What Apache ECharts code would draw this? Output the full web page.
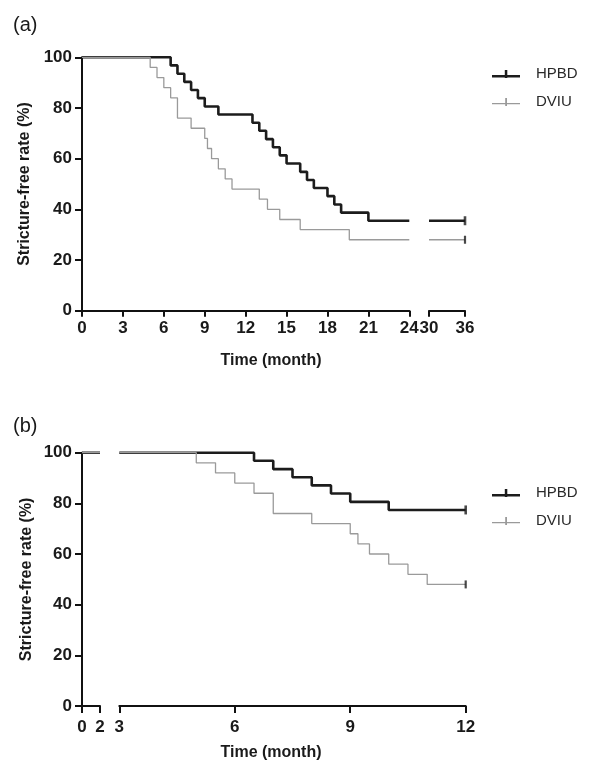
<!DOCTYPE html>
<html>
<head>
<meta charset="utf-8">
<script src="https://cdn.jsdelivr.net/npm/echarts@6/dist/echarts.min.js"></script>
<style>
html,body{margin:0;padding:0;background:#fff;}
#chart{width:596px;height:783px;}
</style>
</head>
<body>
<div id="chart"></div>
<script>
// ---------- DATA ----------
// Panel (a): Kaplan-Meier event times (months) and survival (%)
var hpbdA_t = [0, 6.5, 7, 7.5, 8, 8.5, 9, 10, 12.5, 13, 13.5, 14, 14.5, 15, 16, 16.5, 17, 18, 18.5, 19, 21];
var hpbdA_s = [100, 96.8, 93.5, 90.3, 87.1, 83.9, 80.6, 77.4, 74.2, 71.0, 67.7, 64.5, 61.3, 58.1, 54.8, 51.6, 48.4, 45.2, 41.9, 38.7, 35.5];
var dviuA_t = [0, 5, 5.5, 6, 6.5, 7, 8, 9, 9.2, 9.5, 10, 10.5, 11, 13, 13.6, 14.5, 16, 19.6];
var dviuA_s = [100, 96, 92, 88, 84, 76, 72, 68, 64, 60, 56, 52, 48, 44, 40, 36, 32, 28];
var endA = 36;
// Panel (b)
var hpbdB_t = [0, 6.5, 7, 7.5, 8, 8.5, 9, 10];
var hpbdB_s = [100, 96.8, 93.5, 90.3, 87.1, 83.9, 80.6, 77.4];
var dviuB_t = [0, 5, 5.5, 6, 6.5, 7, 8, 9, 9.2, 9.5, 10, 10.5, 11];
var dviuB_s = [100, 96, 92, 88, 84, 76, 72, 68, 64, 60, 56, 52, 48];
var endB = 12;
// Axis ticks
var yTicks = [0, 20, 40, 60, 80, 100];
var xTicksA1 = [0, 3, 6, 9, 12, 15, 18, 21, 24];
var xTicksA2 = [30, 36];
var xTicksB1 = [0, 2];
var xTicksB2 = [3, 6, 9, 12];
var seriesNames = ['HPBD', 'DVIU'];

// ---------- helpers ----------
function segment(ts, ss, lo, hi) {
  var out = [];
  var lastBefore = ss[0];
  for (var i = 0; i < ts.length; i++) { if (ts[i] <= lo) lastBefore = ss[i]; }
  out.push([lo, lastBefore]);
  for (var j = 0; j < ts.length; j++) { if (ts[j] > lo && ts[j] <= hi) out.push([ts[j], ss[j]]); }
  var lastIn = out[out.length - 1][1];
  out.push([hi, lastIn]);
  return out;
}
function last(arr) { return arr[arr.length - 1]; }

var FONT = '"Liberation Sans", Arial, sans-serif';
var TXT = '#1a1a1a';
var AX = '#111';
var BLACK = '#1c1c1c';
var GREY = '#9a9a9a';

function xAxisDef(gi, min, max, interval, ticks, margin, tickLen) {
  return {
    type: 'value', gridIndex: gi, min: min, max: max, interval: interval,
    axisLine: { show: true, onZero: false, lineStyle: { color: AX, width: 2 } },
    axisTick: { show: true, inside: false, length: tickLen, lineStyle: { color: AX, width: 2 },
      customValues: ticks },
    axisLabel: { show: true, margin: margin, color: TXT, fontFamily: FONT, fontWeight: 'bold', fontSize: 17,
      customValues: ticks, showMinLabel: true, showMaxLabel: true },
    splitLine: { show: false }
  };
}
function yAxisDef(gi, visible) {
  return {
    type: 'value', gridIndex: gi, min: 0, max: 100, interval: 20, show: visible,
    name: visible ? 'Stricture-free rate (%)' : '', nameLocation: 'middle', nameGap: 47,
    nameTextStyle: { color: TXT, fontFamily: FONT, fontWeight: 'bold', fontSize: 16 },
    axisLine: { show: true, lineStyle: { color: AX, width: 2 } },
    axisTick: { show: true, inside: false, length: 7, lineStyle: { color: AX, width: 2 } },
    axisLabel: { margin: 10, color: TXT, fontFamily: FONT, fontWeight: 'bold', fontSize: 17,
      customValues: yTicks },
    splitLine: { show: false }
  };
}
function lineSeries(name, xi, data, color, width, z) {
  return {
    name: name, type: 'line', step: 'end', xAxisIndex: xi, yAxisIndex: xi,
    data: data, symbol: 'none', clip: false, z: z,
    lineStyle: { color: color, width: width }, itemStyle: { color: color },
    emphasis: { disabled: true }, animation: false
  };
}
function censor(name, xi, pt, color, w, h, z) {
  return {
    name: name, type: 'scatter', xAxisIndex: xi, yAxisIndex: xi, data: [pt],
    symbol: 'rect', symbolSize: [w, h], itemStyle: { color: color }, z: z,
    emphasis: { disabled: true }, animation: false, clip: false
  };
}

var iconBlack = 'path://M0,5 L28,5 L28,7.5 L0,7.5 Z M12.8,0 L15.3,0 L15.3,8 L12.8,8 Z';
var iconGrey = 'path://M0,5 L28,5 L28,6.3 L0,6.3 Z M13.2,0 L15,0 L15,8 L13.2,8 Z';

function legendDef(top) {
  return {
    orient: 'vertical', left: 492, top: top, itemWidth: 28, itemHeight: 8, itemGap: 10,
    padding: 0, selectedMode: false,
    textStyle: { color: '#2a2a2a', fontFamily: FONT, fontSize: 15, lineHeight: 18, padding: [0, 0, 0, 11] },
    data: [
      { name: seriesNames[0], icon: iconBlack, itemStyle: { color: BLACK } },
      { name: seriesNames[1], icon: iconGrey, itemStyle: { color: GREY } }
    ]
  };
}

var chart = echarts.init(document.getElementById('chart'), null, { renderer: 'canvas' });

var option = {
  backgroundColor: '#fff',
  animation: false,
  grid: [
    { left: 82, top: 57.3, width: 327.3, height: 253.4 },
    { left: 429, top: 57.3, width: 36, height: 253.4 },
    { left: 82, top: 452.7, width: 18, height: 253.3 },
    { left: 119.3, top: 452.7, width: 346.4, height: 253.3 }
  ],
  xAxis: [
    xAxisDef(0, 0, 24, 3, xTicksA1, 9, 6),
    xAxisDef(1, 30, 36, 6, xTicksA2, 9, 6),
    xAxisDef(2, 0, 2, 2, xTicksB1, 13, 7),
    xAxisDef(3, 3, 12, 3, xTicksB2, 13, 7)
  ],
  yAxis: [
    yAxisDef(0, true), yAxisDef(1, false), yAxisDef(2, true), yAxisDef(3, false)
  ],
  legend: [legendDef(65), legendDef(484)],
  graphic: [
    { type: 'text', left: 13, top: 15, style: { text: '(a)', fill: TXT, font: '20px ' + FONT } },
    { type: 'text', left: 13, top: 416, style: { text: '(b)', fill: TXT, font: '20px ' + FONT } },
    { type: 'text', x: 271, y: 360.5, style: { text: 'Time (month)', fill: TXT, font: 'bold 16px ' + FONT, align: 'center', verticalAlign: 'middle' } },
    { type: 'text', x: 271, y: 753, style: { text: 'Time (month)', fill: TXT, font: 'bold 16px ' + FONT, align: 'center', verticalAlign: 'middle' } }
  ],
  series: [
    // panel (a)
    lineSeries(seriesNames[0], 0, segment(hpbdA_t, hpbdA_s, 0, 24), BLACK, 2.6, 2),
    lineSeries(seriesNames[1], 0, segment(dviuA_t, dviuA_s, 0, 24), GREY, 1.3, 3),
    lineSeries(seriesNames[0], 1, segment(hpbdA_t, hpbdA_s, 30, endA), BLACK, 2.6, 2),
    lineSeries(seriesNames[1], 1, segment(dviuA_t, dviuA_s, 30, endA), GREY, 1.3, 3),
    censor(seriesNames[0], 1, [endA, last(hpbdA_s)], BLACK, 2.6, 9, 4),
    censor(seriesNames[1], 1, [endA, last(dviuA_s)], BLACK, 2.2, 8, 4),
    // panel (b)
    lineSeries(seriesNames[0], 2, segment(hpbdB_t, hpbdB_s, 0, 2), BLACK, 2.6, 2),
    lineSeries(seriesNames[1], 2, segment(dviuB_t, dviuB_s, 0, 2), GREY, 1.3, 3),
    lineSeries(seriesNames[0], 3, segment(hpbdB_t, hpbdB_s, 3, endB), BLACK, 2.6, 2),
    lineSeries(seriesNames[1], 3, segment(dviuB_t, dviuB_s, 3, endB), GREY, 1.3, 3),
    censor(seriesNames[0], 3, [endB, last(hpbdB_s)], BLACK, 2.6, 9, 4),
    censor(seriesNames[1], 3, [endB, last(dviuB_s)], BLACK, 2.2, 8, 4)
  ]
};
chart.setOption(option);
</script>
</body>
</html>
